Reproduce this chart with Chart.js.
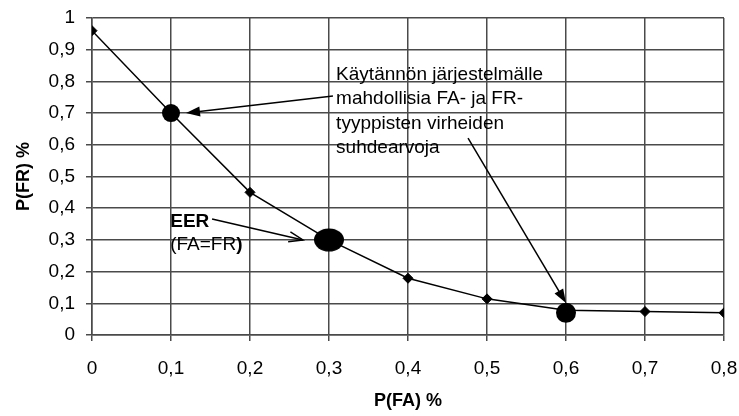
<!DOCTYPE html>
<html>
<head>
<meta charset="utf-8">
<script src="https://cdn.jsdelivr.net/npm/chart.js@4.4.0/dist/chart.umd.min.js"></script>
<style>
  html, body { margin: 0; padding: 0; background: #fff; }
  #wrap { width: 739px; height: 416px; }
</style>
</head>
<body>
<div id="wrap"><canvas id="chart" width="739" height="416"></canvas></div>
<script>
// FA / FR error rate curve
const faRates = [0, 0.1, 0.2, 0.3, 0.4, 0.5, 0.6, 0.7, 0.8];
const frRates = [0.96, 0.70, 0.45, 0.30, 0.179, 0.114, 0.078, 0.074, 0.07];

// highlighted operating points (0.3 = EER)
const markFa = [0.1, 0.3, 0.6];
const markFr = [0.70, 0.30, 0.07];

const xTickLabels = ["0", "0,1", "0,2", "0,3", "0,4", "0,5", "0,6", "0,7", "0,8"];
const yTickLabels = ["0", "0,1", "0,2", "0,3", "0,4", "0,5", "0,6", "0,7", "0,8", "0,9", "1"];

const noteLines = ["Käytännön järjestelmälle", "mahdollisia FA- ja FR-", "tyyppisten virheiden", "suhdearvoja"];

const FONT = "'Liberation Sans', Arial, sans-serif";

// wide ellipse used for the EER point
const eerDot = document.createElement("canvas");
eerDot.width = 32;
eerDot.height = 24;
(function () {
  let c = eerDot.getContext("2d");
  c.fillStyle = "#000";
  c.beginPath();
  c.ellipse(16, 12, 15, 11.5, 0, 0, Math.PI * 2);
  c.fill();
})();

function arrow(ctx, x1, y1, x2, y2, open) {
  const a = Math.atan2(y2 - y1, x2 - x1);
  const len = 14, half = 5;
  ctx.beginPath();
  ctx.moveTo(x1, y1);
  ctx.lineTo(open ? x2 : x2 - Math.cos(a) * len * 0.8, open ? y2 : y2 - Math.sin(a) * len * 0.8);
  ctx.stroke();
  const bx = x2 - Math.cos(a) * len, by = y2 - Math.sin(a) * len;
  const px = -Math.sin(a) * half, py = Math.cos(a) * half;
  ctx.beginPath();
  ctx.moveTo(bx + px, by + py);
  ctx.lineTo(x2, y2);
  ctx.lineTo(bx - px, by - py);
  if (open) {
    ctx.stroke();
  } else {
    ctx.closePath();
    ctx.fill();
  }
}

const callouts = {
  id: "callouts",
  afterDatasetsDraw(chart) {
    const ctx = chart.ctx;
    const xs = chart.scales.x, ys = chart.scales.y;
    const px = v => xs.getPixelForValue(v);
    const py = v => ys.getPixelForValue(v);
    ctx.save();
    ctx.fillStyle = "#000";
    ctx.strokeStyle = "#000";
    ctx.lineWidth = 1.5;
    ctx.textBaseline = "alphabetic";
    ctx.textAlign = "left";

    ctx.font = "19px " + FONT;
    noteLines.forEach((t, i) => ctx.fillText(t, px(0.309), py(0.804) + i * 24.3));

    arrow(ctx, px(0.305), py(0.754), px(0.119), py(0.70), false);
    arrow(ctx, px(0.476), py(0.621), px(0.600), py(0.101), false);

    ctx.font = "bold 19px " + FONT;
    ctx.fillText("EER", px(0.099), py(0.34));
    ctx.font = "19px " + FONT;
    let w = ctx.measureText("(FA=FR").width;
    ctx.fillText("(FA=FR", px(0.099), py(0.268));
    ctx.font = "bold 19px " + FONT;
    ctx.fillText(")", px(0.099) + w, py(0.268));

    arrow(ctx, px(0.152), py(0.366), px(0.267), py(0.30), true);
    ctx.restore();
  }
};

const gridOpts = {
  color: "#4a4a4a",
  lineWidth: 1.5,
  tickLength: 6,
  drawTicks: true
};

new Chart(document.getElementById("chart"), {
  type: "scatter",
  data: {
    datasets: [
      {
        data: markFa.map((x, i) => ({ x: x, y: markFr[i] })),
        showLine: false,
        pointStyle: ["circle", eerDot, "circle"],
        pointRadius: [9, 12, 10],
        backgroundColor: "#000",
        borderColor: "#000",
        borderWidth: 0,
        order: 0
      },
      {
        data: faRates.map((x, i) => ({ x: x, y: frRates[i] })),
        showLine: true,
        borderColor: "#000",
        borderWidth: 1.5,
        backgroundColor: "#000",
        pointStyle: "rectRot",
        pointRadius: 5,
        pointBorderWidth: 1,
        tension: 0,
        order: 1
      }
    ]
  },
  options: {
    responsive: false,
    animation: false,
    events: [],
    layout: { padding: { top: 18, right: 15, left: 0, bottom: 0 } },
    plugins: {
      legend: { display: false },
      tooltip: { enabled: false }
    },
    scales: {
      x: {
        type: "linear",
        min: 0,
        max: 0.8,
        grid: gridOpts,
        border: { color: "#4a4a4a", width: 1.5 },
        afterBuildTicks: s => { s.ticks = faRates.map(v => ({ value: v })); },
        afterFit: s => {
          s.height = 81;
          s.paddingLeft = 0;
          s.paddingRight = 0;
        },
        ticks: {
          padding: 16,
          color: "#000",
          font: { family: FONT, size: 19 },
          callback: (v, i) => xTickLabels[i]
        },
        title: {
          display: true,
          text: "P(FA) %",
          color: "#000",
          font: { family: FONT, size: 18, weight: "bold" },
          padding: { top: 0, bottom: 4 }
        }
      },
      y: {
        type: "linear",
        min: 0,
        max: 1,
        grid: gridOpts,
        border: { color: "#4a4a4a", width: 1.5 },
        afterBuildTicks: s => { s.ticks = yTickLabels.map((t, i) => ({ value: i / 10 })); },
        afterFit: s => {
          s.width = 92;
          s.paddingTop = 0;
          s.paddingBottom = 0;
        },
        ticks: {
          padding: 11,
          color: "#000",
          font: { family: FONT, size: 19 },
          callback: (v, i) => yTickLabels[i]
        },
        title: {
          display: true,
          text: "P(FR) %",
          color: "#000",
          font: { family: FONT, size: 18, weight: "bold" },
          padding: { top: 13, bottom: 0 }
        }
      }
    }
  },
  plugins: [callouts]
});
</script>
</body>
</html>
